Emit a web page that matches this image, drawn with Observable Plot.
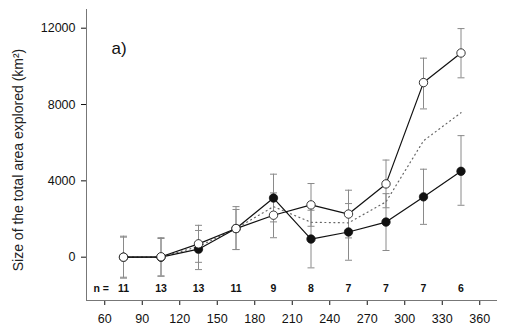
<!DOCTYPE html>
<html>
<head>
<meta charset="utf-8">
<script src="https://cdn.jsdelivr.net/npm/d3@7"></script>
<script src="https://cdn.jsdelivr.net/npm/@observablehq/plot@0.6"></script>
<style>
  html, body { margin: 0; padding: 0; background: #fff; }
  #chart svg { display: block; }
</style>
</head>
<body>
<div id="chart"></div>
<script>
const timeBins   = [75, 105, 135, 165, 195, 225, 255, 285, 315, 345];
const nLabels    = [11, 13, 13, 11, 9, 8, 7, 7, 7, 6];
const openMean   = [0, 20, 700, 1500, 2200, 2740, 2260, 3840, 9150, 10700];
const openLow    = [-1100, -1000, -270, 400, 1020, 1620, 1010, 2590, 7770, 9400];
const openHigh   = [1100, 1020, 1670, 2650, 3370, 3860, 3510, 5090, 10430, 11980];
const filledMean = [0, 0, 420, 1500, 3100, 950, 1320, 1840, 3160, 4500];
const filledLow  = [-1050, -980, -650, 400, 1850, -560, -160, 350, 1720, 2720];
const filledHigh = [1050, 980, 1400, 2500, 4350, 2460, 2810, 3330, 4610, 6370];
const dottedMean = [0, 0, 560, 1500, 2650, 1830, 1800, 2900, 6100, 7570];
const xTicks = [60, 90, 120, 150, 180, 210, 240, 270, 300, 330, 360];
const yTicks = [0, 4000, 8000, 12000];

const xDomain = [45.4, 374.2];
const yDomain = [-2270, 12980];

const openRows = timeBins.map((x, i) => ({x, y: openMean[i], lo: openLow[i], hi: openHigh[i]}));
const filledRows = timeBins.map((x, i) => ({x, y: filledMean[i], lo: filledLow[i], hi: filledHigh[i]}));
const dottedRows = timeBins.map((x, i) => ({x, y: dottedMean[i]}));
const nRows = timeBins.map((x, i) => ({x, n: String(nLabels[i])}));

const cap = {draw(ctx) { ctx.moveTo(-3.5, 0); ctx.lineTo(3.5, 0); }};
const errGray = "#8a8a8a";

function errorBars(rows) {
  return [
    Plot.ruleX(rows, {x: "x", y1: "lo", y2: "hi", stroke: errGray, strokeWidth: 1}),
    Plot.dot(rows, {x: "x", y: "lo", symbol: cap, r: 3, fill: "none", stroke: errGray, strokeWidth: 1}),
    Plot.dot(rows, {x: "x", y: "hi", symbol: cap, r: 3, fill: "none", stroke: errGray, strokeWidth: 1})
  ];
}

const chart = Plot.plot({
  width: 506,
  height: 333,
  marginLeft: 86,
  marginRight: 9,
  marginTop: 9,
  marginBottom: 33,
  style: {fontFamily: "Liberation Sans, Arial, sans-serif", fontSize: "12.5px", color: "#111", background: "#fff"},
  x: {domain: xDomain, ticks: xTicks, tickSize: 5, tickPadding: 9, tickFormat: d3.format("d"), label: null},
  y: {domain: yDomain, ticks: yTicks, tickSize: 5, tickPadding: 6, tickFormat: d3.format("d"), label: null},
  marks: [
    Plot.ruleX([xDomain[0]], {stroke: "#777", strokeWidth: 1}),
    Plot.ruleY([yDomain[0]], {stroke: "#777", strokeWidth: 1}),
    ...errorBars(filledRows),
    ...errorBars(openRows),
    Plot.line(dottedRows, {x: "x", y: "y", stroke: "#666", strokeWidth: 1.2, strokeDasharray: "1,3.5"}),
    Plot.line(filledRows, {x: "x", y: "y", stroke: "#111", strokeWidth: 1.2}),
    Plot.line(openRows, {x: "x", y: "y", stroke: "#111", strokeWidth: 1.2}),
    Plot.dot(filledRows, {x: "x", y: "y", r: 4.2, fill: "#111", stroke: "#111", strokeWidth: 0.8}),
    Plot.dot(openRows, {x: "x", y: "y", r: 4.2, fill: "#fff", stroke: "#222", strokeWidth: 0.9}),
    Plot.text(nRows, {x: "x", text: "n", frameAnchor: "bottom", dy: -9, fontSize: 10.5, fontWeight: "bold", fill: "#111"}),
    Plot.text(["n ="], {frameAnchor: "bottom-left", dx: 7, dy: -9, textAnchor: "start", fontSize: 10.5, fontWeight: "bold", fill: "#111"}),
    Plot.text(["a)"], {frameAnchor: "top-left", dx: 25, dy: 32, textAnchor: "start", fontSize: 17, fill: "#111"}),
    Plot.text(["Size of the total area explored (km²)"], {frameAnchor: "left", dx: -68, dy: 5, rotate: -90, textAnchor: "middle", fontSize: 14, fill: "#222"})
  ]
});
document.getElementById("chart").appendChild(chart);
</script>
</body>
</html>
